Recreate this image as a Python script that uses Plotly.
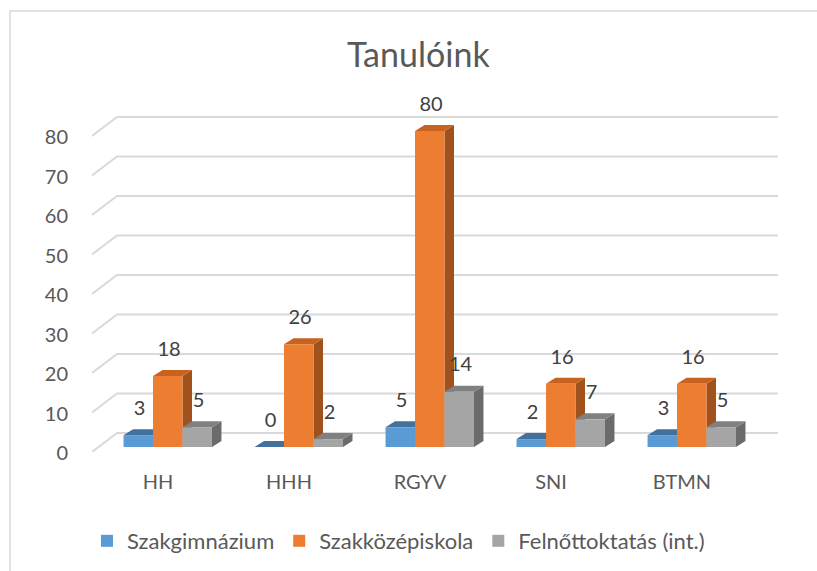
import plotly.graph_objects as go

# ---- data ----
categories = ["HH", "HHH", "RGYV", "SNI", "BTMN"]
series_names = ["Szakgimnázium", "Szakközépiskola", "Felnőttoktatás (int.)"]
szakgimnazium = [3, 0, 5, 2, 3]
szakkozepiskola = [18, 26, 80, 16, 16]
felnottoktatas = [5, 2, 14, 7, 5]
y_ticks = [0, 10, 20, 30, 40, 50, 60, 70, 80]
title_text = "Tanulóink"

# ---- styling / layout constants ----
W, H = 817, 571
L, R, T, B = 92, 39, 100, 119
PW, PH = W - L - R, H - T - B
X_PX0 = 158.0      # pixel of category index 0
X_STEP = 131.0     # px per category
Y_PX0 = 447.0      # pixel of value 0 (bar fronts)
Y_STEP = 3.95      # px per unit

x_range = [-(X_PX0 - L) / X_STEP, (W - R - X_PX0) / X_STEP]
y_range = [-(H - B - Y_PX0) / Y_STEP, (Y_PX0 - T) / Y_STEP]

fronts = ["#5B9BD5", "#ED7D31", "#A5A5A5"]
tops = ["#41719C", "#C8621F", "#808080"]
sides = ["#35618A", "#A1521C", "#6B6B6B"]
offsets = [-0.263, -0.038, 0.187]
bar_w = 0.225
dx = 9.5 / X_STEP
dy = 6.0 / Y_STEP
label_dy = 6.4
text_color = "#404040"
font_family = "Lato, 'Open Sans', sans-serif"

values = [szakgimnazium, szakkozepiskola, felnottoktatas]
xs = list(range(len(categories)))

fig = go.Figure()
shapes = []

# back-wall gridlines
grid_back = (Y_PX0 - 433.0) / Y_STEP
floor_front = (Y_PX0 - 452.0) / Y_STEP
x_wall = x_range[0] + (117.0 - L) / X_STEP
for v in y_ticks:
    shapes.append(dict(
        type="path", xref="x", yref="y", layer="below",
        path=f"M {x_range[0]},{v + floor_front} L {x_wall},{v + grid_back} L {x_range[1]},{v + grid_back}",
        line=dict(color="#D9D9D9", width=2),
    ))

# 3D side faces then top faces
side_shapes, top_shapes = [], []
for si, vals in enumerate(values):
    for xi, v in zip(xs, vals):
        x0 = xi + offsets[si]
        x1 = x0 + bar_w
        side_shapes.append(dict(
            type="path", xref="x", yref="y", layer="below",
            path=f"M {x1},0 L {x1 + dx},{dy} L {x1 + dx},{v + dy} L {x1},{v} Z",
            fillcolor=sides[si], line=dict(width=0),
        ))
        top_shapes.append(dict(
            type="path", xref="x", yref="y", layer="below",
            path=f"M {x0},{v} L {x0 + dx},{v + dy} L {x1 + dx},{v + dy} L {x1},{v} Z",
            fillcolor=tops[si], line=dict(width=0),
        ))
shapes += side_shapes + top_shapes

def px_to_paper_x(px):
    return (px - L) / PW

def px_to_paper_y(py):
    return (H - B - py) / PH

# chart border
shapes.append(dict(
    type="rect", xref="paper", yref="paper", layer="below",
    x0=px_to_paper_x(10), x1=px_to_paper_x(W + 20),
    y0=px_to_paper_y(H + 20), y1=px_to_paper_y(11),
    line=dict(color="#D9D9D9", width=1.5), fillcolor="rgba(0,0,0,0)",
))

for si, vals in enumerate(values):
    fig.add_trace(go.Bar(
        x=xs, y=vals, name=series_names[si],
        offset=offsets[si], width=bar_w,
        marker=dict(color=fronts[si], line=dict(width=0)),
        hoverinfo="skip",
    ))

# data labels
for si, vals in enumerate(values):
    fig.add_trace(go.Scatter(
        x=[xi + offsets[si] + bar_w / 2 + 0.01 for xi in xs],
        y=[v + label_dy for v in vals],
        text=[str(v) for v in vals],
        mode="text", textposition="middle center",
        textfont=dict(size=20, color=text_color, family=font_family),
        showlegend=False, hoverinfo="skip", cliponaxis=False,
    ))

fig.update_layout(
    width=W, height=H,
    margin=dict(l=L, r=R, t=T, b=B, pad=0),
    paper_bgcolor="white", plot_bgcolor="white",
    barmode="overlay",
    shapes=shapes,
    font=dict(family=font_family, color="#595959"),
    title=dict(text=title_text, x=0.512, xanchor="center", y=1 - 55 / H,
               yanchor="middle", yref="container",
               font=dict(size=34, color="#595959", family=font_family)),
    xaxis=dict(range=x_range, tickvals=xs, ticktext=categories,
               showgrid=False, zeroline=False, showline=False, ticks="",
               tickfont=dict(size=20, color="#595959"),
               ticklabelstandoff=16, fixedrange=True),
    yaxis=dict(range=y_range, tickvals=y_ticks, showgrid=False,
               zeroline=False, showline=False, ticks="",
               tickfont=dict(size=20, color="#595959"),
               ticklabelstandoff=23, ticklabelshift=6, fixedrange=True),
    legend=dict(orientation="h", xref="container", yref="container",
                x=87 / W, xanchor="left", y=1 - 541 / H, yanchor="middle",
                font=dict(size=22, color="#595959"), traceorder="normal",
                itemwidth=30),
    showlegend=True,
)

fig.write_html("out.html",
               config={"displayModeBar": False},
               post_script="document.body.style.margin='0';document.body.style.overflow='hidden';")
